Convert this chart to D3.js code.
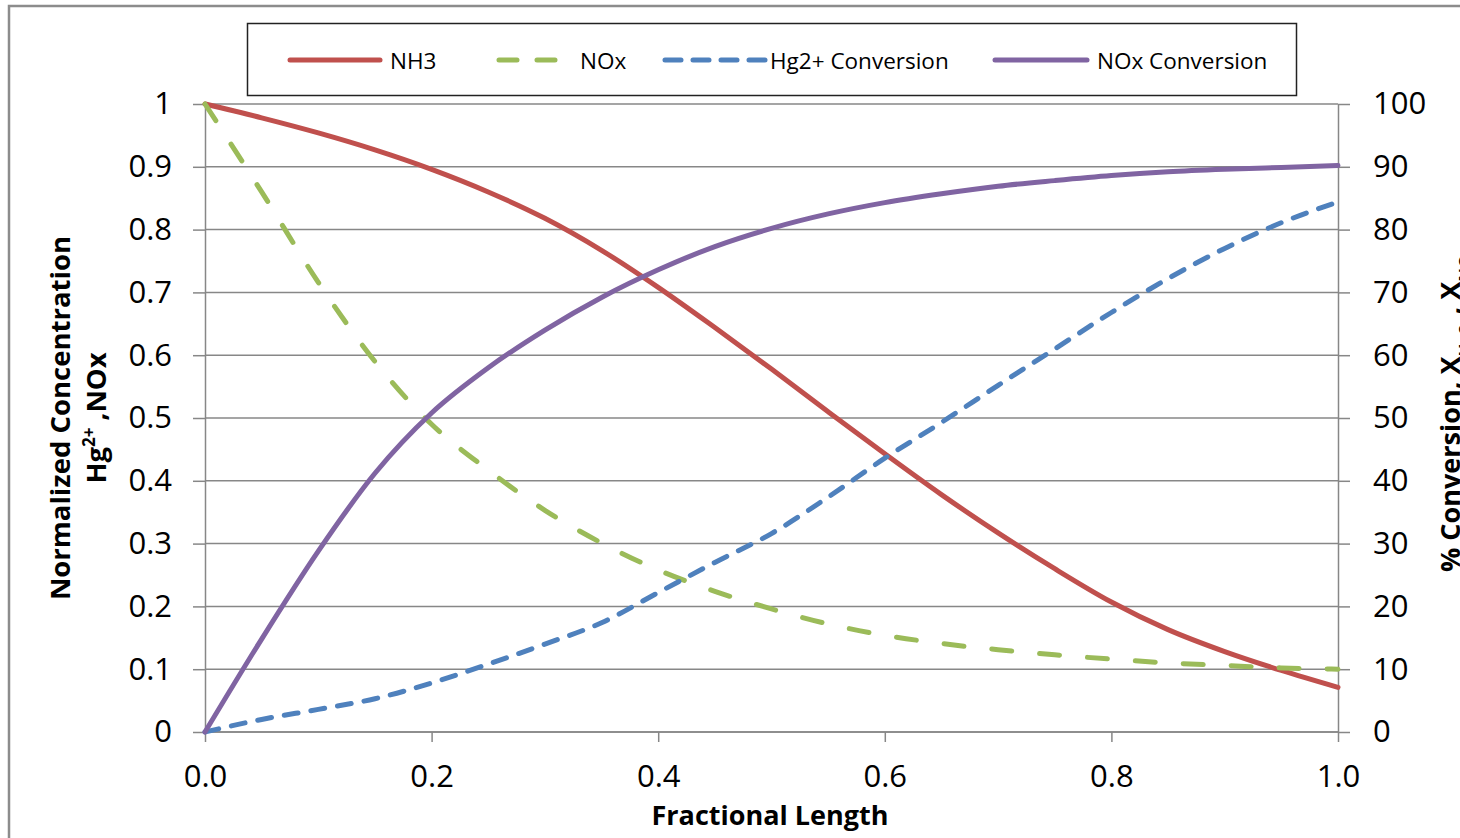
<!DOCTYPE html>
<html>
<head>
<meta charset="utf-8">
<script src="https://cdn.jsdelivr.net/npm/d3@7"></script>
<style>
  html, body { margin: 0; padding: 0; background: #fff; overflow: hidden; }
  text { font-family: "Open Sans", "Liberation Sans", sans-serif; fill: #000; }
</style>
</head>
<body>
<svg id="chart" width="1460" height="838"></svg>
<script>
// ---- data ----
const fractionalLength = [0, 0.05, 0.1, 0.15, 0.2, 0.25, 0.3, 0.35, 0.4, 0.45, 0.5, 0.55, 0.6, 0.65, 0.7, 0.75, 0.8, 0.85, 0.9, 0.95, 1.0];
const nh3 = [1.0, 0.978, 0.954, 0.927, 0.896, 0.860, 0.818, 0.767, 0.708, 0.644, 0.578, 0.510, 0.443, 0.378, 0.317, 0.260, 0.207, 0.163, 0.128, 0.098, 0.071];
const nox = [1.0, 0.86, 0.716, 0.59, 0.49, 0.417, 0.353, 0.301, 0.258, 0.224, 0.196, 0.172, 0.154, 0.141, 0.131, 0.123, 0.116, 0.110, 0.106, 0.102, 0.1];
const hgConversion = [0, 2.0, 3.6, 5.3, 7.8, 10.8, 14.0, 17.4, 22.2, 27.0, 31.6, 37.4, 43.6, 49.3, 55.2, 61.0, 66.8, 72.2, 77.0, 81.1, 84.4];
const noxConversion = [0, 14.8, 28.8, 41.2, 50.8, 58.0, 64.0, 69.2, 73.6, 77.3, 80.2, 82.5, 84.3, 85.7, 86.9, 87.8, 88.6, 89.2, 89.6, 89.9, 90.2];

const seriesNames = ["NH3", "NOx", "Hg2+ Conversion", "NOx Conversion"];
const seriesColors = ["#C0504D", "#9BBB59", "#4F81BD", "#8064A2"];
const seriesDash = [null, "20,28", "14,13", null];
const legendDash = [null, "18,20", "16,12", null];
const xTicks = [0, 0.2, 0.4, 0.6, 0.8, 1.0];
const yLeftTicks = [0, 0.1, 0.2, 0.3, 0.4, 0.5, 0.6, 0.7, 0.8, 0.9, 1];
const yRightTicks = [0, 10, 20, 30, 40, 50, 60, 70, 80, 90, 100];

// ---- layout ----
const svg = d3.select("#chart");
const x = d3.scaleLinear().domain([0, 1]).range([205, 1338]);
const yL = d3.scaleLinear().domain([0, 1]).range([732, 104]);
const yR = d3.scaleLinear().domain([0, 100]).range([732, 104]);
const gridColor = "#878787";

// outer chart border
svg.append("rect").attr("x", 9).attr("y", 6).attr("width", 1500).attr("height", 900)
  .attr("fill", "#fff").attr("stroke", "#8c8c8c").attr("stroke-width", 2.5);

// gridlines
svg.append("g").selectAll("line").data(yLeftTicks).join("line")
  .attr("x1", x(0)).attr("x2", x(1))
  .attr("y1", d => yL(d)).attr("y2", d => yL(d))
  .attr("stroke", gridColor).attr("stroke-width", 1.5);

// axes
function styleAxis(g) {
  g.select(".domain").attr("stroke", gridColor).attr("stroke-width", 1.5);
  g.selectAll(".tick line").attr("stroke", gridColor).attr("stroke-width", 1.5);
  g.selectAll(".tick text").style("font-size", "31px").attr("fill", "#000");
}
const leftAxis = svg.append("g").attr("transform", `translate(${x(0)},0)`)
  .call(d3.axisLeft(yL).tickValues(yLeftTicks).tickSize(12).tickSizeOuter(0).tickPadding(21)
    .tickFormat(d3.format("~g")));
styleAxis(leftAxis);
const rightAxis = svg.append("g").attr("transform", `translate(${x(1)},0)`)
  .call(d3.axisRight(yR).tickValues(yRightTicks).tickSize(12).tickSizeOuter(0).tickPadding(23)
    .tickFormat(d3.format("d")));
styleAxis(rightAxis);
const bottomAxis = svg.append("g").attr("transform", `translate(0,${yL(0)})`)
  .call(d3.axisBottom(x).tickValues(xTicks).tickSize(10).tickSizeOuter(0).tickPadding(23)
    .tickFormat(d3.format(".1f")));
styleAxis(bottomAxis);
bottomAxis.select(".domain").remove();
svg.append("line").attr("x1", x(0)).attr("x2", x(1)).attr("y1", yL(0)).attr("y2", yL(0))
  .attr("stroke", gridColor).attr("stroke-width", 1.5);

// series lines
const seriesData = [
  { vals: nh3, scale: yL },
  { vals: nox, scale: yL },
  { vals: hgConversion, scale: yR },
  { vals: noxConversion, scale: yR }
];
seriesData.forEach((s, i) => {
  const line = d3.line()
    .x((d, j) => x(fractionalLength[j]))
    .y(d => s.scale(d))
    .curve(d3.curveMonotoneX);
  svg.append("path").datum(s.vals)
    .attr("d", line)
    .attr("fill", "none")
    .attr("stroke", seriesColors[i])
    .attr("stroke-width", 5)
    .attr("stroke-linecap", "round")
    .attr("stroke-linejoin", "round")
    .attr("stroke-dasharray", seriesDash[i]);
});

// legend
svg.append("rect").attr("x", 247.5).attr("y", 23.5).attr("width", 1049).attr("height", 72)
  .attr("fill", "#fff").attr("stroke", "#222").attr("stroke-width", 1.5);
const legendItems = [
  { x1: 290, x2: 380, tx: 390 },
  { x1: 499, x2: 555, tx: 580 },
  { x1: 665, x2: 765, tx: 770 },
  { x1: 995, x2: 1087, tx: 1097 }
];
legendItems.forEach((it, i) => {
  svg.append("line").attr("x1", it.x1).attr("x2", it.x2).attr("y1", 60).attr("y2", 60)
    .attr("stroke", seriesColors[i]).attr("stroke-width", 5)
    .attr("stroke-linecap", "round").attr("stroke-dasharray", legendDash[i]);
  svg.append("text").attr("x", it.tx).attr("y", 69)
    .style("font-size", "22.5px").text(seriesNames[i]);
});

// axis titles
svg.append("text").attr("x", 770).attr("y", 825).attr("text-anchor", "middle")
  .style("font-size", "27px").style("font-weight", "bold").text("Fractional Length");

svg.append("text").attr("transform", "translate(70,418) rotate(-90)")
  .attr("text-anchor", "middle").style("font-size", "27.5px").style("font-weight", "bold")
  .text("Normalized Concentration");
const lt2 = svg.append("text").attr("transform", "translate(106,418) rotate(-90)")
  .attr("text-anchor", "middle").style("font-size", "27.5px").style("font-weight", "bold");
lt2.append("tspan").text("Hg");
lt2.append("tspan").attr("baseline-shift", "super").style("font-size", "17px").text("2+");
lt2.append("tspan").text(" ,NOx");

const rt = svg.append("text").attr("transform", "translate(1460,572) rotate(-90)")
  .attr("text-anchor", "start").style("font-size", "27px").style("font-weight", "bold");
rt.append("tspan").text("% Conversion, X");
rt.append("tspan").attr("baseline-shift", "sub").style("font-size", "17px").text("Hg2+");
rt.append("tspan").text(", X");
rt.append("tspan").attr("baseline-shift", "sub").style("font-size", "17px").text("NO");
</script>
</body>
</html>
